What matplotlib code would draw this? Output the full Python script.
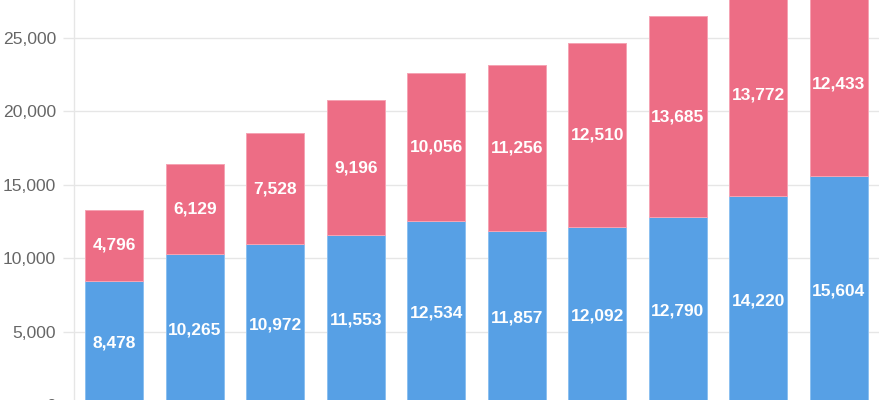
import matplotlib
matplotlib.use("Agg")
import matplotlib.pyplot as plt
import numpy as np

categories = ["1", "2", "3", "4", "5", "6", "7", "8", "9", "10"]
series_blue = [8478, 10265, 10972, 11553, 12534, 11857, 12092, 12790, 14220, 15604]
series_pink = [4796, 6129, 7528, 9196, 10056, 11256, 12510, 13685, 13772, 12433]
y_ticks = [0, 5000, 10000, 15000, 20000, 25000]

blue = "#57a0e5"
blue_edge = "#8cc0f0"
pink = "#ed6d85"
pink_edge = "#f5a3b3"
grid_c = "#e6e6e6"

plt.rcParams['font.family'] = ['Liberation Sans', 'DejaVu Sans']

fig = plt.figure(figsize=(8.8, 4.0), dpi=100)
ax = fig.add_axes([74/880, -5.3/400, 805/880, 441.3/400])

x = np.arange(len(categories))
w = 0.715
lw = 0.72
ax.bar(x, series_blue, width=w, color=blue, edgecolor=blue_edge, linewidth=lw, zorder=3)
ax.bar(x, series_pink, width=w, bottom=series_blue, color=pink, edgecolor=pink_edge, linewidth=lw, zorder=3)

for i in range(len(categories)):
    b = series_blue[i]
    p = series_pink[i]
    ax.text(x[i], b / 2, f"{b:,}", ha="center", va="center", color="white",
            fontsize=12.5, fontweight="bold", zorder=4)
    ax.text(x[i], b + p / 2, f"{p:,}", ha="center", va="center", color="white",
            fontsize=12.5, fontweight="bold", zorder=4)

ax.set_xlim(-0.5, len(categories) - 0.5)
ax.set_ylim(0, 30000)
ax.set_yticks(y_ticks)
ax.set_yticklabels([f"{v:,}" for v in y_ticks])
ax.yaxis.grid(True, color=grid_c, linewidth=1.0, zorder=0)
ax.axhline(30000, color=grid_c, linewidth=1.0, zorder=0)
ax.set_xticks([])
ax.tick_params(axis="y", length=8, width=1.0, color=grid_c, labelcolor="#666666",
               labelsize=12.6, pad=5)
for s in ["top", "right", "bottom"]:
    ax.spines[s].set_visible(False)
ax.spines["left"].set_color(grid_c)
ax.spines["left"].set_linewidth(1.0)
ax.set_facecolor("white")

fig.savefig("out.png", dpi=100, facecolor="white")
